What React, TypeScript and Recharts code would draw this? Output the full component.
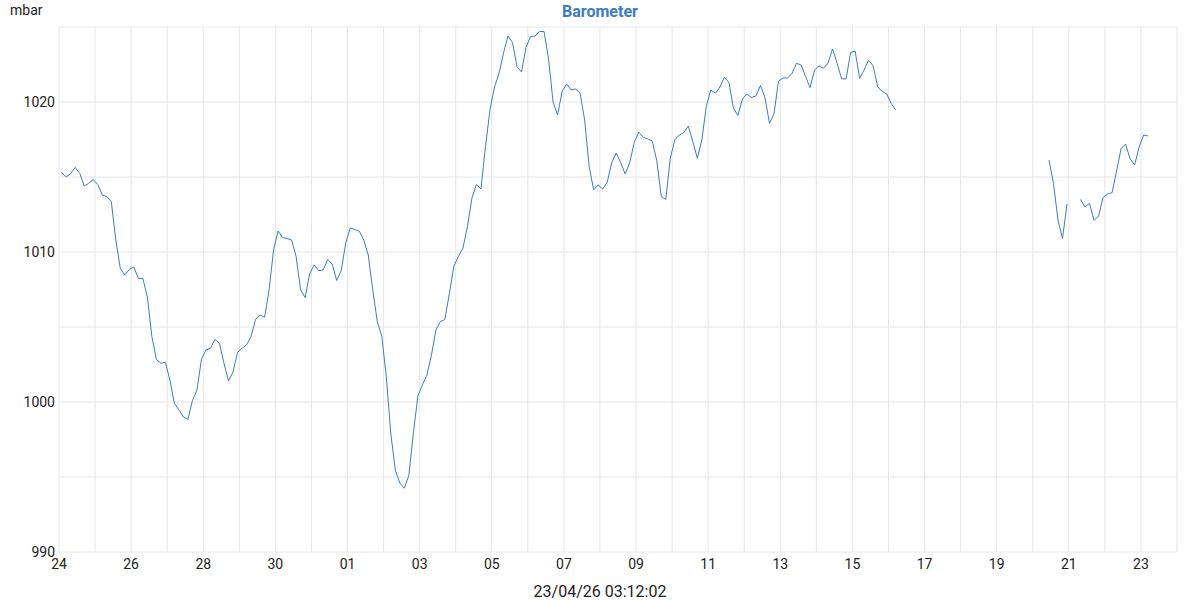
import React from 'react';
import { LineChart, Line, XAxis, YAxis, CartesianGrid } from 'recharts';

// Barometer readings (mbar), sampled every 3 hours from Mar 24 ~01:48
const START_HOUR = 1.8;
const STEP_HOURS = 3;

const SEG_A_START = 0;
const SEG_A: number[] = [
  1015.3, 1015.0, 1015.24, 1015.64, 1015.24, 1014.4, 1014.58, 1014.84, 1014.5, 1013.8,
  1013.7, 1013.36, 1010.8, 1008.9, 1008.47, 1008.84, 1009.0, 1008.24, 1008.24, 1007.0,
  1004.36, 1002.84, 1002.58, 1002.64, 1001.47, 999.9, 999.47, 999.0, 998.84, 1000.1,
  1000.8, 1002.85, 1003.47, 1003.58, 1004.18, 1003.9, 1002.58, 1001.4, 1002.0, 1003.3,
  1003.58, 1003.8, 1004.36, 1005.5, 1005.8, 1005.65, 1007.47, 1010.14, 1011.4, 1010.96,
  1010.9, 1010.8, 1009.7, 1007.47, 1006.96, 1008.54, 1009.14, 1008.76, 1008.8, 1009.5,
  1009.2, 1008.1, 1008.75, 1010.6, 1011.6, 1011.5, 1011.4, 1010.8, 1009.8, 1007.47,
  1005.36, 1004.4, 1001.7, 997.9, 995.47, 994.6, 994.25, 995.1, 997.9, 1000.4,
  1001.13, 1001.8, 1003.1, 1004.8, 1005.36, 1005.5, 1007.25, 1009.07, 1009.7, 1010.25,
  1011.7, 1013.6, 1014.5, 1014.2, 1017.03, 1019.47, 1021.0, 1021.9, 1023.25, 1024.4,
  1023.96, 1022.36, 1022.0, 1023.65, 1024.36, 1024.4, 1024.7, 1024.7, 1022.85, 1020.0,
  1019.14, 1020.7, 1021.2, 1020.8, 1020.87, 1020.58, 1018.8, 1015.7, 1014.14, 1014.47,
  1014.2, 1014.65, 1015.95, 1016.6, 1015.95, 1015.2, 1015.96, 1017.3, 1018.0, 1017.65,
  1017.54, 1017.4, 1016.1, 1013.7, 1013.5, 1016.25, 1017.47, 1017.8, 1017.96, 1018.4,
  1017.36, 1016.25, 1017.47, 1019.74, 1020.8, 1020.58, 1021.0, 1021.65, 1021.3, 1019.6,
  1019.1, 1020.2, 1020.54, 1020.3, 1020.4, 1021.1, 1020.3, 1018.58, 1019.2, 1021.4,
  1021.6, 1021.6, 1021.9, 1022.58, 1022.47, 1021.7, 1020.96, 1022.14, 1022.4, 1022.25,
  1022.6, 1023.54, 1022.58, 1021.54, 1021.54, 1023.3, 1023.4, 1021.58, 1022.14, 1022.8,
  1022.4, 1021.03, 1020.7, 1020.54, 1019.9, 1019.47,
];

const SEG_B_START = 219;
const SEG_B: number[] = [1016.13, 1014.58, 1012.13, 1010.9, 1013.2];

const SEG_C_START = 226;
const SEG_C: number[] = [
  1013.5, 1013.0, 1013.24, 1012.1, 1012.4, 1013.64, 1013.87, 1013.96, 1015.4, 1016.9,
  1017.2, 1016.2, 1015.8, 1017.0, 1017.8, 1017.73,
];

// One x tick per day from Mar 24 to Apr 24 (hours since Mar 24 00:00)
const DAY_TICK_LABELS = [
  '24', '', '26', '', '28', '', '30', '', '01', '', '03', '', '05', '', '07', '',
  '09', '', '11', '', '13', '', '15', '', '17', '', '19', '', '21', '', '23', '',
];
const Y_TICKS = [990, 995, 1000, 1005, 1010, 1015, 1020, 1025];
const Y_LABELED = [990, 1000, 1010, 1020];

const TITLE = 'Barometer';
const UNIT = 'mbar';
const FOOTER = '23/04/26 03:12:02';

const X_TICKS = DAY_TICK_LABELS.map((_, i) => i * 24);

type Row = { t: number; v: number | null };
const segments = [
  { start: SEG_A_START, values: SEG_A },
  { start: SEG_B_START, values: SEG_B },
  { start: SEG_C_START, values: SEG_C },
];
const data: Row[] = [];
segments.forEach((seg, si) => {
  seg.values.forEach((v, i) => {
    data.push({ t: START_HOUR + (seg.start + i) * STEP_HOURS, v });
  });
  if (si < segments.length - 1) {
    data.push({ t: START_HOUR + (seg.start + seg.values.length) * STEP_HOURS, v: null });
  }
});

const FONT = 'Roboto, "Noto Sans", sans-serif';

export default function App() {
  return (
    <div style={{ position: 'absolute', left: 0, top: 0, width: 1200, height: 600, fontFamily: FONT, background: '#fff' }}>
      <LineChart
        width={1200}
        height={600}
        data={data}
        margin={{ top: 27, right: 23, bottom: 18, left: 0 }}
        style={{ fontFamily: FONT }}
      >
        <CartesianGrid stroke="#e6e6e6" strokeWidth={1} />
        <XAxis
          dataKey="t"
          type="number"
          domain={[0, 744]}
          ticks={X_TICKS}
          interval={0}
          tickFormatter={(val: number) => DAY_TICK_LABELS[Math.round(val / 24)] ?? ''}
          axisLine={false}
          tickLine={false}
          tickSize={0}
          tickMargin={7}
          height={30}
          tick={{ fill: '#222', fontSize: 14 }}
        />
        <YAxis
          type="number"
          domain={[990, 1025]}
          ticks={Y_TICKS}
          interval={0}
          tickFormatter={(val: number) => (Y_LABELED.includes(val) ? String(val) : '')}
          axisLine={false}
          tickLine={false}
          tickSize={0}
          tickMargin={4}
          width={59}
          tick={{ fill: '#222', fontSize: 14 }}
        />
        <Line
          type="linear"
          dataKey="v"
          stroke="#3a7fc1"
          strokeWidth={1}
          dot={false}
          activeDot={false}
          connectNulls={false}
          isAnimationActive={false}
        />
      </LineChart>
      <svg width={1200} height={600} style={{ position: 'absolute', left: 0, top: 0, pointerEvents: 'none' }}>
        <text x={10} y={15} fontSize={14} fill="#222" fontFamily={FONT}>{UNIT}</text>
        <text x={600} y={16.5} fontSize={16} fontWeight="bold" fill="#3a7cbf" textAnchor="middle" fontFamily={FONT}>{TITLE}</text>
        <text x={600} y={597} fontSize={16} fill="#222" textAnchor="middle" fontFamily={FONT}>{FOOTER}</text>
      </svg>
    </div>
  );
}
